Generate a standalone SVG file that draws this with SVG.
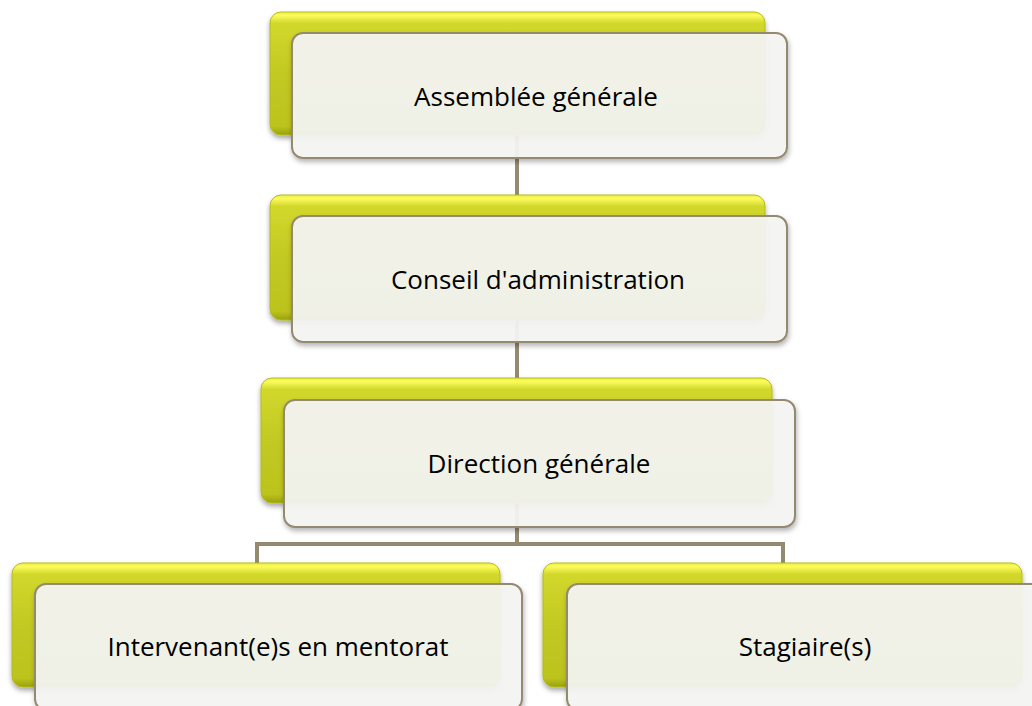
<svg xmlns="http://www.w3.org/2000/svg" width="1032" height="706" viewBox="0 0 1032 706">
  <defs>
    <linearGradient id="gGreen" x1="0" y1="0" x2="0" y2="1">
      <stop offset="0" stop-color="#eeee48"/>
      <stop offset="0.03" stop-color="#fbfb5c"/>
      <stop offset="0.09" stop-color="#d2d82c"/>
      <stop offset="0.5" stop-color="#c2c922"/>
      <stop offset="0.93" stop-color="#bcc31e"/>
      <stop offset="1" stop-color="#9aa10c"/>
    </linearGradient>
    <filter id="shGreen" x="-5%" y="-10%" width="110%" height="130%">
      <feDropShadow dx="0" dy="3" stdDeviation="2.5" flood-color="#000" flood-opacity="0.35"/>
    </filter>
    <filter id="shFront" x="-5%" y="-10%" width="110%" height="130%">
      <feDropShadow dx="1" dy="3" stdDeviation="2.5" flood-color="#000" flood-opacity="0.3"/>
    </filter>
  </defs>
  <style>
    .green { fill: url(#gGreen); stroke: #b4bc1a; stroke-width: 1; filter: url(#shGreen); }
    .front { fill: #f5f5f3; fill-opacity: 0.93; stroke: #948a70; stroke-width: 2; filter: url(#shFront); }
    .conn { fill: none; stroke: #948a70; stroke-width: 4; }
    .lbl { font-family: "Open Sans", "Liberation Sans", sans-serif; font-size: 26px; fill: #000; text-anchor: middle; dominant-baseline: central; }
  </style>
  <rect width="1032" height="706" fill="#ffffff"/>

  <g id="connectors">
    <line class="conn" x1="517" y1="130" x2="517" y2="198"/>
    <line class="conn" x1="517" y1="315" x2="517" y2="381"/>
    <polyline class="conn" points="517,500 517,544 257,544 257,566"/>
    <polyline class="conn" points="517,544 783,544 783,566"/>
  </g>

  <g id="node-assemblee">
    <rect class="green" x="270" y="12" width="495" height="123" rx="11"/>
    <rect class="front" x="292" y="33" width="495" height="125" rx="11"/>
    <text class="lbl" x="536" y="96">Assemblée générale</text>
  </g>

  <g id="node-conseil">
    <rect class="green" x="270" y="195" width="495" height="125" rx="11"/>
    <rect class="front" x="292" y="216" width="495" height="126" rx="11"/>
    <text class="lbl" x="538" y="279">Conseil d'administration</text>
  </g>

  <g id="node-direction">
    <rect class="green" x="261" y="378" width="511" height="125" rx="11"/>
    <rect class="front" x="284" y="400" width="511" height="127" rx="11"/>
    <text class="lbl" x="539" y="463">Direction générale</text>
  </g>

  <g id="node-intervenants">
    <rect class="green" x="12" y="563" width="488" height="124" rx="11"/>
    <rect class="front" x="35" y="584" width="487" height="126" rx="11"/>
    <text class="lbl" x="278" y="646">Intervenant(e)s en mentorat</text>
  </g>

  <g id="node-stagiaires">
    <rect class="green" x="543" y="563" width="479" height="124" rx="11"/>
    <rect class="front" x="567" y="584" width="480" height="126" rx="11"/>
    <text class="lbl" x="805" y="646">Stagiaire(s)</text>
  </g>
</svg>
